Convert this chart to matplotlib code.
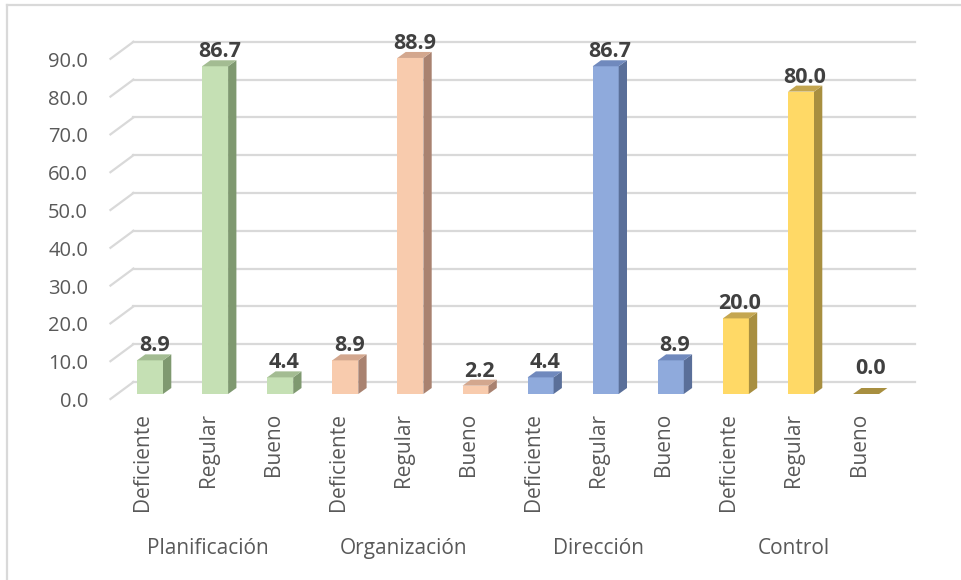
import matplotlib
matplotlib.use("Agg")
import matplotlib.pyplot as plt
from matplotlib.patches import Polygon
from matplotlib.lines import Line2D

plt.rcParams["font.family"] = ["Open Sans", "DejaVu Sans"]

groups = ["Planificación", "Organización", "Dirección", "Control"]
levels = ["Deficiente", "Regular", "Bueno"]
values = [
    [8.9, 86.7, 4.4],
    [8.9, 88.9, 2.2],
    [4.4, 86.7, 8.9],
    [20.0, 80.0, 0.0],
]
face_colors = ["#C5E0B4", "#F8CBAD", "#8FAADC", "#FFD966"]
side_colors = ["#7F9970", "#A98270", "#5A6F99", "#A88F40"]
top_colors = ["#A3BC92", "#D3A78E", "#7089BD", "#C4A650"]
y_ticks = [0, 10, 20, 30, 40, 50, 60, 70, 80, 90]

# pixel scale of the figure (961 x 580 at dpi 100)
W, H = 961, 580
PX_X = 65.1     # px per bar slot
PX_Y = 3.78     # px per value unit
X0, Y0 = 150, 394   # pixel of bar 0 centre / value 0 in the bar plane

fig = plt.figure(figsize=(W / 100, H / 100), dpi=100)
left_px, right_px, top_px, bottom_px = 100, 930, 20, 420
ax = fig.add_axes([left_px / W, 1 - bottom_px / H,
                   (right_px - left_px) / W, (bottom_px - top_px) / H])
ax.set_xlim((left_px - X0) / PX_X, (right_px - X0) / PX_X)
ax.set_ylim((Y0 - bottom_px) / PX_Y, (Y0 - top_px) / PX_Y)
ax.axis("off")

# depth offsets (data units)
front_dx, front_dy = -7 / PX_X, -5 / PX_Y
back_dx, back_dy = 16 / PX_X, 12 / PX_Y
side_dx, side_dy = 8.3 / PX_X, 6 / PX_Y
bar_w = 26 / PX_X

n_bars = len(groups) * len(levels)
x_lo, x_hi = -0.5, n_bars - 0.5
grid_color = "#D9D9D9"
text_gray = "#595959"

# back wall gridlines + floor slants
for v in y_ticks:
    ax.plot([x_lo + back_dx, x_hi + back_dx], [v + back_dy, v + back_dy],
            color=grid_color, linewidth=1.6, zorder=1, clip_on=False)
    ax.plot([x_lo + front_dx, x_lo + back_dx], [v + front_dy, v + back_dy],
            color=grid_color, linewidth=1.6, zorder=1, clip_on=False)
    ax.text(-0.952, v + front_dy - 3 / PX_Y, f"{v:.1f}", ha="right",
            va="center", fontsize=14.5, color=text_gray)

# bars
i = 0
for g, group in enumerate(groups):
    for k, level in enumerate(levels):
        v = values[g][k]
        x = i
        if v > 0:
            ax.bar(x, v, width=bar_w, color=face_colors[g], zorder=3)
            xr = x + bar_w / 2
            ax.add_patch(Polygon([(xr, 0), (xr + side_dx, side_dy),
                                  (xr + side_dx, v + side_dy), (xr, v)],
                                 closed=True, facecolor=side_colors[g],
                                 edgecolor="none", zorder=3))
        xl = x - bar_w / 2
        ax.add_patch(Polygon([(xl, v), (xl + bar_w, v),
                              (xl + bar_w + side_dx, v + side_dy),
                              (xl + side_dx, v + side_dy)],
                             closed=True,
                             facecolor=top_colors[g] if v > 0 else side_colors[g],
                             edgecolor="none", zorder=3))
        gap = 3 if v > 0 else 14
        ax.text(x + side_dx / 2, v + side_dy + gap / PX_Y, f"{v:.1f}",
                ha="center", va="baseline", fontsize=15.5, fontweight="bold",
                color="#404040", zorder=4)
        ax.text(x + front_dx, (Y0 - 413) / PX_Y, level, rotation=90,
                ha="center", va="top", fontsize=15, color=text_gray)
        i += 1
    mid = g * len(levels) + 1
    ax.text(mid + front_dx, (Y0 - 554) / PX_Y, group, ha="center",
            va="baseline", fontsize=15, color=text_gray)

# chart frame (only left and top edges visible)
fig.add_artist(Line2D([7 / W, 7 / W], [0, 1 - 5 / H], color=grid_color,
                      linewidth=1.6, transform=fig.transFigure))
fig.add_artist(Line2D([7 / W, 1], [1 - 5 / H, 1 - 5 / H], color=grid_color,
                      linewidth=1.6, transform=fig.transFigure))

plt.savefig("out.png", dpi=100)
plt.close()
